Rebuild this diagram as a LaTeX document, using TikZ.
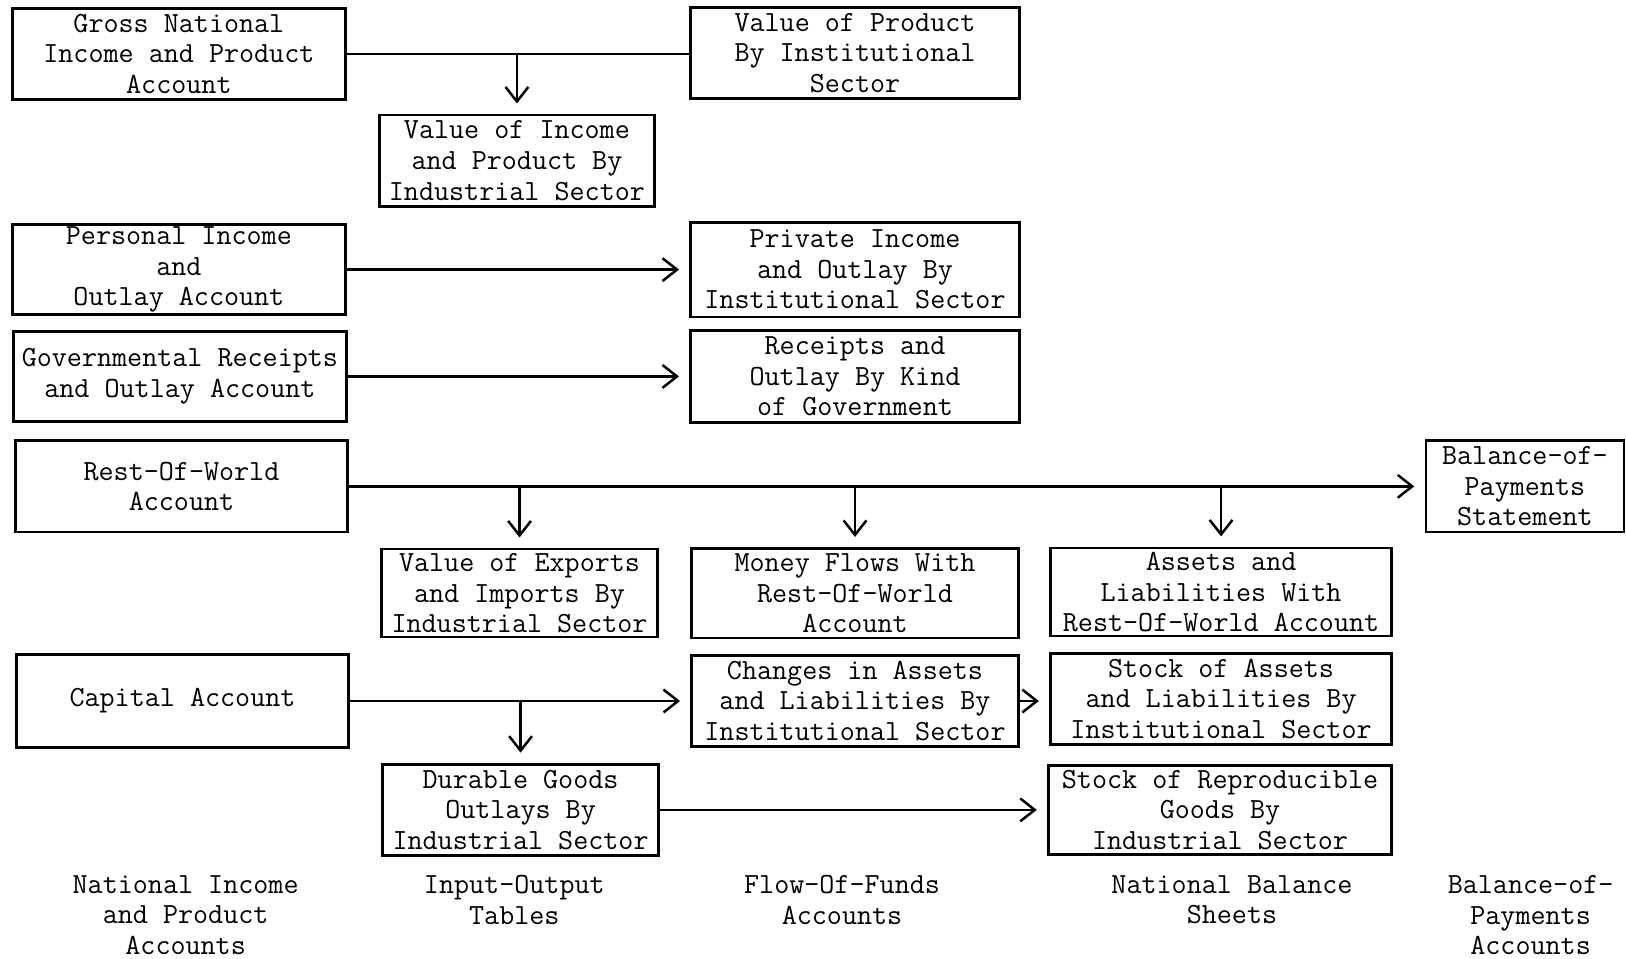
\documentclass[tikz,border=0pt]{standalone}
\usepackage{tikz}
\usetikzlibrary{arrows.meta,calc,positioning}

\newcommand{\accfont}{\fontsize{28.2}{29.5}\selectfont\ttfamily}
\tikzset{
  acct/.style={draw, line width=2.4pt, inner sep=0pt, align=center, font=\accfont},
  link/.style={line width=2.4pt},
  flow/.style={line width=2.4pt, -{Straight Barb[length=14pt,width=22pt]}, shorten >=10pt},
  colhead/.style={inner sep=0pt, align=center, anchor=north, font=\accfont}
}

\begin{document}
\begin{tikzpicture}[x=1pt,y=-1pt]
\useasboundingbox (0,0) rectangle (1568,924);
%
\node[acct, minimum width=321pt, minimum height=88pt] (GNP) at (172.5,52) {Gross National\\Income and Product\\Account};
\node[acct, minimum width=317pt, minimum height=88pt] (VPI) at (824.5,51) {Value of Product\\By Institutional\\Sector};
\node[acct, minimum width=265pt, minimum height=88pt] (VIP) at (498.5,155) {Value of Income\\and Product By\\Industrial Sector};
%
\node[acct, minimum width=321pt, minimum height=87pt] (PIO) at (172.5,260) {Personal Income\\and\\Outlay Account};
\node[acct, minimum width=317pt, minimum height=91pt] (PIS) at (824.5,260) {Private Income\\and Outlay By\\Institutional Sector};
%
\node[acct, minimum width=321pt, minimum height=87pt] (GRO) at (173.5,363) {Governmental Receipts\\and Outlay Account};
\node[acct, minimum width=317pt, minimum height=89pt] (RKG) at (824.5,363) {Receipts and\\Outlay By Kind\\of Government};
%
\node[acct, minimum width=320pt, minimum height=88pt] (ROW) at (175,469) {Rest-Of-World\\Account};
\node[acct, minimum width=191pt, minimum height=88pt] (BOP) at (1470.5,469) {Balance-of-\\Payments\\Statement};
\node[acct, minimum width=266pt, minimum height=85pt] (VEI) at (501,572) {Value of Exports\\and Imports By\\Industrial Sector};
\node[acct, minimum width=315pt, minimum height=86pt] (MFW) at (824.5,572) {Money Flows With\\Rest-Of-World\\Account};
\node[acct, minimum width=329pt, minimum height=85pt] (ALW) at (1177.5,571) {Assets and\\Liabilities With\\Rest-Of-World Account};
%
\node[acct, minimum width=320pt, minimum height=90pt] (CAP) at (176,676) {Capital Account};
\node[acct, minimum width=315pt, minimum height=88pt] (CAL) at (824.5,676) {Changes in Assets\\and Liabilities By\\Institutional Sector};
\node[acct, minimum width=329pt, minimum height=88pt] (SAL) at (1177.5,674) {Stock of Assets\\and Liabilities By\\Institutional Sector};
\node[acct, minimum width=266pt, minimum height=88pt] (DGO) at (502,781) {Durable Goods\\Outlays By\\Industrial Sector};
\node[acct, minimum width=331pt, minimum height=86pt] (SRG) at (1176.5,781) {Stock of Reproducible\\Goods By\\Industrial Sector};
%
\draw[link] (GNP.east) -- (GNP.east -| VPI.west);
\draw[flow] (GNP.east -| VIP.north) -- (VIP.north);
%
\draw[flow] (PIO.east) -- (PIO.east -| PIS.west);
\draw[flow] (GRO.east) -- (GRO.east -| RKG.west);
%
\draw[flow] (ROW.east) -- (ROW.east -| BOP.west);
\foreach \t in {VEI,MFW,ALW}
  \draw[flow] (ROW.east -| \t.north) -- (\t.north);
%
\draw[flow] (CAP.east) -- (CAP.east -| CAL.west);
\draw[flow] (CAP.east -| DGO.north) -- (DGO.north);
\draw[flow] (CAL.east) -- (CAL.east -| SAL.west);
\draw[flow] (DGO.east) -- (DGO.east -| SRG.west);
%
\node[colhead] (nip) at (179,844) {National Income\\and Product\\Accounts};
\node[colhead] (iot) at (496,844) {Input-Output\\Tables};
\node[colhead] (ffa) at (812,844) {Flow-Of-Funds\\Accounts};
\node[colhead] (nbs) at (1188,844) {National Balance\\Sheets};
\node[colhead] (bpa) at (1476,844) {Balance-of-\\Payments\\Accounts};
%
\end{tikzpicture}
\end{document}
